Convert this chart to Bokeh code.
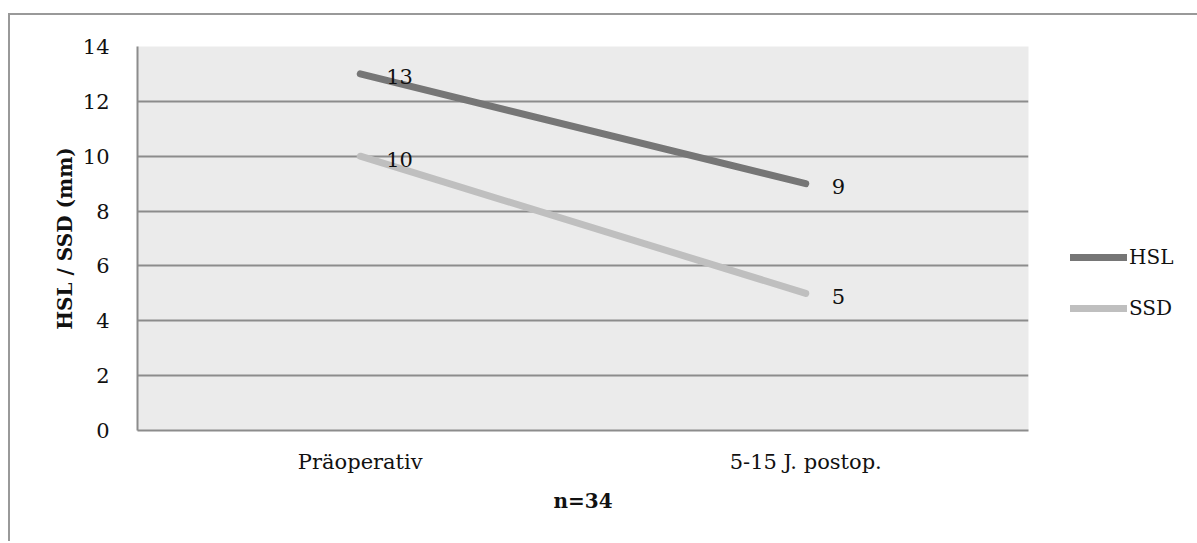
from bokeh.plotting import figure
from bokeh.models import ColumnDataSource, Legend, LegendItem, FixedTicker, Range1d
from bokeh.core.properties import value
from bokeh.embed import file_html
from bokeh.resources import INLINE

# ---- data ----
categories = ["Präoperativ", "5-15 J. postop."]
series_names = ["HSL", "SSD"]
hsl_values = [13, 9]
ssd_values = [10, 5]
y_ticks = [0, 2, 4, 6, 8, 10, 12, 14]
x_axis_title = "n=34"
y_axis_title = "HSL / SSD (mm)"

FONT = "DejaVu Serif"
GRID = "#8c8c8c"
colors = ["#767676", "#bfbfbf"]

p = figure(
    x_range=categories,
    y_range=Range1d(0, 14),
    frame_width=891, frame_height=384,
    min_border_left=127, min_border_right=167,
    min_border_top=31, min_border_bottom=111,
    output_backend="svg", toolbar_location=None,
    background_fill_color="#ebebeb",
    border_fill_color="white",
    outline_line_color=None,
    margin=(13, 0, 0, 8),
    styles={"border-left": "2px solid #999999", "border-top": "2px solid #999999"},
)

renderers = []
label_src = []
for name, vals, col in zip(series_names, [hsl_values, ssd_values], colors):
    src = ColumnDataSource(dict(x=categories, y=vals, lbl=[str(v) for v in vals]))
    r = p.line("x", "y", source=src, line_color=col, line_width=7, line_cap="round")
    renderers.append(r)
    label_src.append(src)

for src in label_src:
    p.text("x", "y", text="lbl", source=src, x_offset=26, y_offset=3,
           text_baseline="middle", text_align="left",
           text_font=value(FONT), text_font_size="21px", text_color="#111111")

# axes
p.yaxis.ticker = FixedTicker(ticks=y_ticks)
for ax in (p.xaxis[0], p.yaxis[0]):
    ax.axis_line_color = GRID
    ax.axis_line_width = 2
    ax.major_tick_line_color = None
    ax.minor_tick_line_color = None
    ax.major_label_text_font = FONT
    ax.major_label_text_font_size = "21px"
    ax.major_label_text_color = "#111111"
    ax.axis_label_text_font = FONT
    ax.axis_label_text_font_style = "bold"
    ax.axis_label_text_font_size = "20px"
    ax.axis_label_text_color = "#111111"

p.yaxis.major_label_standoff = 22
p.xaxis.major_label_standoff = 13
p.yaxis.axis_label = y_axis_title
p.xaxis.axis_label = x_axis_title
p.yaxis.axis_label_standoff = 3
p.xaxis.axis_label_standoff = 12

p.xgrid.grid_line_color = None
p.ygrid.grid_line_color = GRID
p.ygrid.grid_line_width = 2

legend = Legend(
    items=[LegendItem(label=n, renderers=[r]) for n, r in zip(series_names, renderers)],
    location=(42, 110),
    glyph_width=57, glyph_height=20, label_standoff=2, spacing=27,
    padding=0, margin=0,
    background_fill_alpha=0, border_line_color=None,
    label_text_font=FONT, label_text_font_size="20px", label_text_color="#111111",
)
p.add_layout(legend, "right")

open("out.html", "w").write(file_html(p, INLINE))
